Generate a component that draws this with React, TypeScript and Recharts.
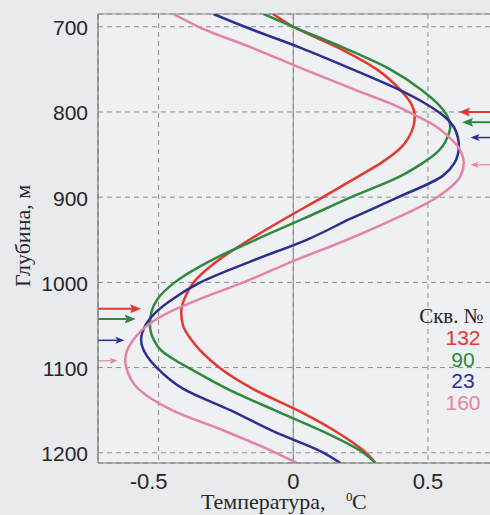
import React from 'react';
import { LineChart, Line, XAxis, YAxis, CartesianGrid, ReferenceLine } from 'recharts';

// Depth (m) sample points
const depth = [685, 700, 725, 750, 775, 790, 805, 817, 830, 840, 850, 860, 875, 900, 925, 950, 975, 1000, 1020, 1035, 1050, 1068, 1080, 1092, 1100, 1125, 1150, 1175, 1200, 1212];

// Temperature (°C) per well
const t132 = [-0.075, 0.0, 0.17, 0.31, 0.40, 0.437, 0.451, 0.446, 0.428, 0.405, 0.37, 0.325, 0.245, 0.11, -0.03, -0.163, -0.282, -0.37, -0.405, -0.416, -0.41, -0.377, -0.345, -0.305, -0.275, -0.15, 0.015, 0.158, 0.27, 0.305];
const t90 = [-0.11, 0.0, 0.19, 0.36, 0.48, 0.535, 0.572, 0.583, 0.572, 0.555, 0.525, 0.48, 0.40, 0.215, 0.04, -0.14, -0.31, -0.44, -0.505, -0.527, -0.532, -0.517, -0.49, -0.435, -0.39, -0.245, -0.07, 0.11, 0.26, 0.305];
const t23 = [-0.296, -0.18, 0.03, 0.22, 0.40, 0.49, 0.56, 0.595, 0.611, 0.615, 0.611, 0.598, 0.555, 0.39, 0.215, 0.05, -0.155, -0.345, -0.45, -0.51, -0.548, -0.565, -0.555, -0.53, -0.507, -0.408, -0.234, -0.073, 0.113, 0.175];
const t160 = [-0.445, -0.352, -0.15, 0.04, 0.237, 0.36, 0.46, 0.53, 0.58, 0.61, 0.627, 0.633, 0.621, 0.534, 0.38, 0.20, 0.0, -0.185, -0.35, -0.46, -0.54, -0.595, -0.617, -0.624, -0.62, -0.575, -0.45, -0.25, -0.065, 0.014];

const seriesKeys = ['s132', 's90', 's23', 's160'];
const seriesNames = ['132', '90', '23', '160'];
const seriesColors = ['#e3382c', '#2f8a3d', '#2c2f8f', '#e5849f'];
const seriesValues = [t132, t90, t23, t160];

// Arrow markers (depth, head temperature)
const arrowRightDepth = [800, 812, 830, 862];
const arrowRightHead = [0.615, 0.627, 0.658, 0.658];
const arrowLeftDepth = [1031, 1043, 1068, 1092];
const arrowLeftHead = [-0.565, -0.585, -0.627, -0.652];

const xTicks = [-0.5, 0, 0.5];
const xTickLabels = ['-0.5', '0', '0.5'];
const yTicks = [700, 800, 900, 1000, 1100, 1200];

const X_DOMAIN: [number, number] = [-0.725, 0.775];
const Y_DOMAIN: [number, number] = [685, 1212];

const rows = depth.map((d, i) => {
  const r: any = { depth: d };
  seriesKeys.forEach((k, j) => { r[k] = seriesValues[j][i]; });
  return r;
});

const arrowStyle = [
  { w: 2, head: 11, hw: 4.5 },
  { w: 2, head: 11, hw: 4.5 },
  { w: 1.5, head: 9, hw: 3.5 },
  { w: 1.2, head: 8, hw: 3 },
];

const makeArrow = (color: string, w: number, head: number, hw: number) => (p: any) => {
  const { x1, y1, x2, y2 } = p;
  const dx = x2 - x1;
  const dy = y2 - y1;
  const len = Math.hypot(dx, dy) || 1;
  const ux = dx / len;
  const uy = dy / len;
  const bx = x2 - ux * head;
  const by = y2 - uy * head;
  const pts = `${x2},${y2} ${bx - uy * hw},${by + ux * hw} ${bx + ux * 2},${by + uy * 2} ${bx + uy * hw},${by - ux * hw}`;
  return (
    <g>
      <line x1={x1} y1={y1} x2={bx + ux * 2} y2={by + uy * 2} stroke={color} strokeWidth={w} />
      <polygon points={pts} fill={color} />
    </g>
  );
};

const SANS = 'Liberation Sans, Arial, sans-serif';
const SERIF = 'Liberation Serif, Times New Roman, serif';

const XTick = (props: any) => {
  const { x, y, payload } = props;
  const idx = xTicks.indexOf(payload.value);
  const label = idx >= 0 ? xTickLabels[idx] : String(payload.value);
  return (
    <text x={x + (payload.value < 0 ? -10 : 0)} y={y} dy="0.71em" textAnchor="middle" fontSize={22} fontFamily={SANS} fill="#262626">
      {label}
    </text>
  );
};

const YTick = (props: any) => {
  const { x, y, payload } = props;
  return (
    <text x={x} y={y + 1} dy="0.355em" textAnchor="end" fontSize={21} fontFamily={SANS} fill="#262626">
      {payload.value}
    </text>
  );
};

export default function App() {
  return (
    <div style={{ position: 'fixed', left: 0, top: 0, width: 490, height: 515, overflow: 'hidden', background: '#e8eaee' }}>
      <LineChart
        width={512}
        height={515}
        data={rows}
        layout="vertical"
        margin={{ top: 14, right: 10, bottom: 0, left: 0 }}
      >
        <CartesianGrid strokeDasharray="5 4" stroke="#8e8e8e" fill="#eef0f4" />
        <XAxis
          type="number"
          domain={X_DOMAIN}
          ticks={xTicks}
          allowDataOverflow
          height={52}
          tickSize={0}
          tickMargin={10}
          tickLine={false}
          axisLine={{ stroke: '#777', strokeWidth: 1.2 }}
          tick={<XTick />}
        />
        <YAxis
          type="number"
          dataKey="depth"
          domain={Y_DOMAIN}
          ticks={yTicks}
          allowDataOverflow
          width={98}
          tickSize={0}
          tickMargin={10}
          tickLine={false}
          axisLine={{ stroke: '#777', strokeWidth: 1.2 }}
          tick={<YTick />}
        />
        <ReferenceLine x={0} stroke="#8a8a8a" strokeWidth={1} />
        <ReferenceLine y={Y_DOMAIN[0]} stroke="#8a8a8a" strokeWidth={1.2} />
        {seriesKeys.map((k, i) => (
          <Line
            key={k}
            dataKey={k}
            name={seriesNames[i]}
            type="monotone"
            stroke={seriesColors[i]}
            strokeWidth={2.5}
            dot={false}
            activeDot={false}
            isAnimationActive={false}
          />
        ))}
        {arrowRightDepth.map((d, i) => (
          <ReferenceLine
            key={'ar' + i}
            ifOverflow="visible"
            segment={[{ x: X_DOMAIN[1], y: d }, { x: arrowRightHead[i], y: d }]}
            shape={makeArrow(seriesColors[i], arrowStyle[i].w, arrowStyle[i].head, arrowStyle[i].hw)}
          />
        ))}
        {arrowLeftDepth.map((d, i) => (
          <ReferenceLine
            key={'al' + i}
            ifOverflow="visible"
            segment={[{ x: X_DOMAIN[0], y: d }, { x: arrowLeftHead[i], y: d }]}
            shape={makeArrow(seriesColors[i], arrowStyle[i].w, arrowStyle[i].head, arrowStyle[i].hw)}
          />
        ))}
      </LineChart>
      <svg width={490} height={515} style={{ position: 'absolute', left: 0, top: 0, pointerEvents: 'none' }}>
        <text transform="translate(30,236) rotate(-90)" textAnchor="middle" fontSize={22} fontFamily={SERIF} fill="#262626">
          Глубина, м
        </text>
        <text x={201} y={509} fontSize={22} fontFamily={SERIF} fill="#262626">Температура,</text>
        <text x={346} y={501} fontSize={13} fontFamily={SERIF} fill="#262626">0</text>
        <text x={352} y={509} fontSize={22} fontFamily={SERIF} fill="#262626">C</text>
        <text x={451.5} y={323} textAnchor="middle" fontSize={21} fontFamily={SERIF} fill="#262626">Скв. №</text>
        {seriesNames.map((n, i) => (
          <text key={n} x={463} y={345 + i * 21.7} textAnchor="middle" fontSize={21} fontFamily={SANS} fill={seriesColors[i]}>
            {n}
          </text>
        ))}
      </svg>
    </div>
  );
}
